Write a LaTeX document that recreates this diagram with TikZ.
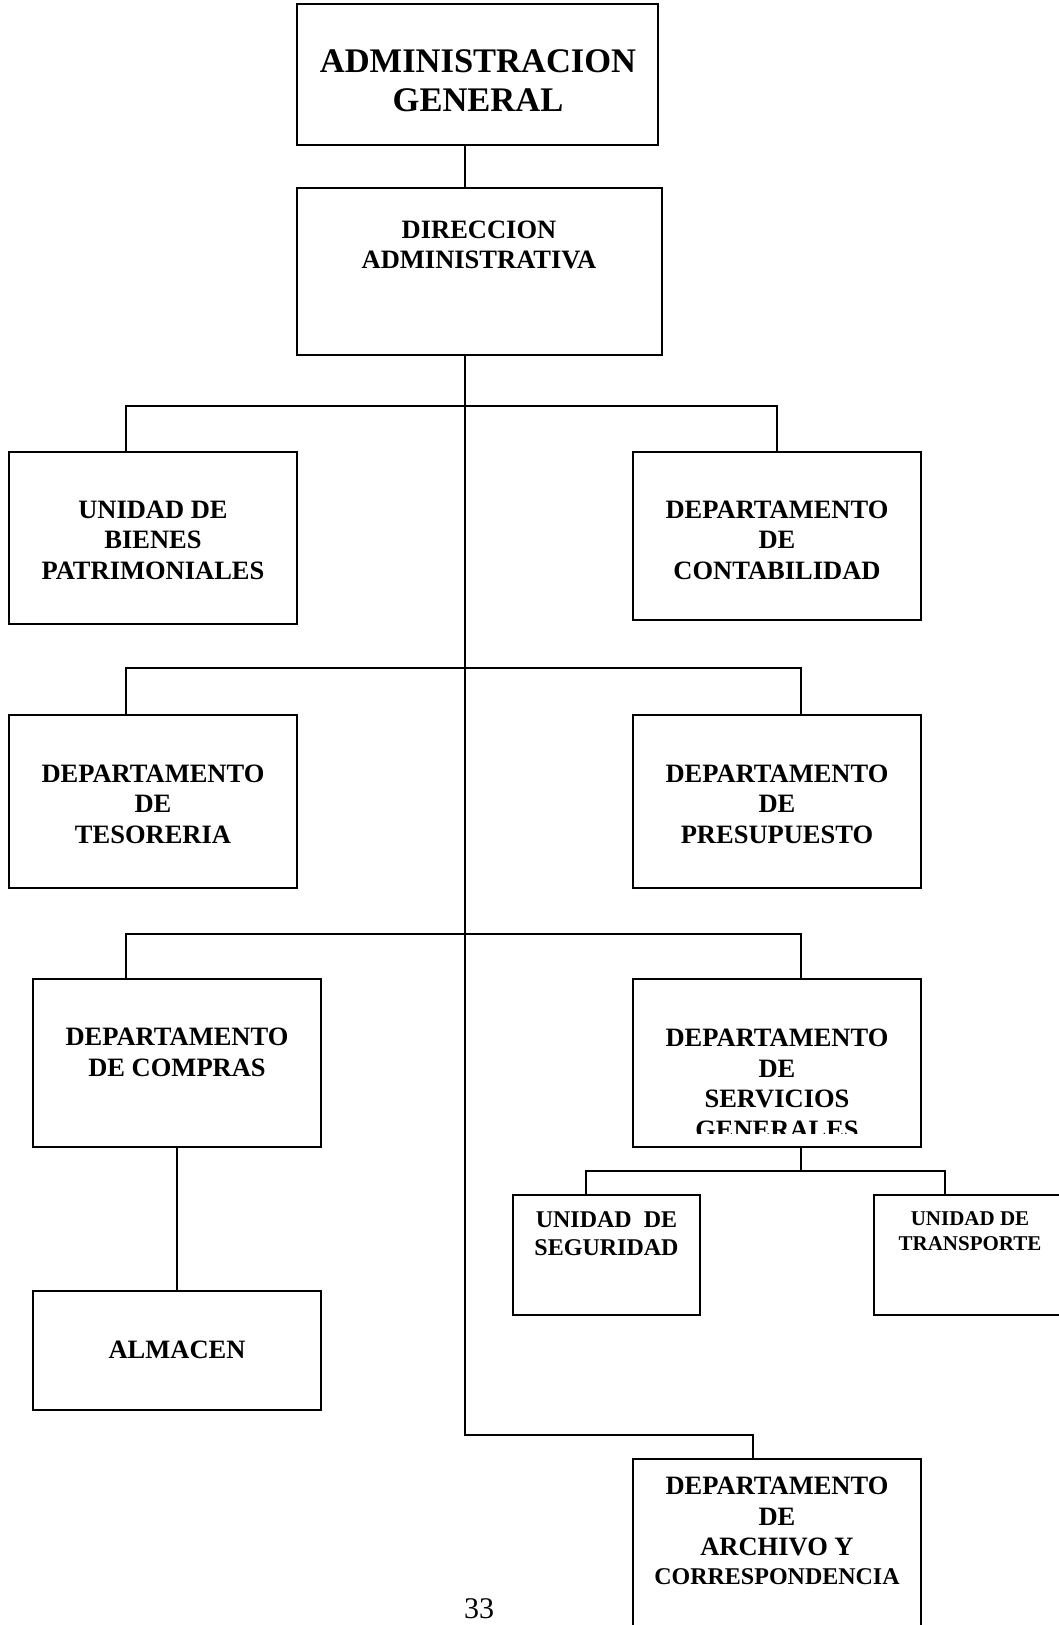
\documentclass[tikz,border=0pt]{standalone}
\usepackage{fontspec}
\setmainfont{Liberation Serif}
\begin{document}
\begin{tikzpicture}[x=1pt,y=-1pt,
  box/.style={draw,line width=1.8pt,inner sep=0pt},
  conn/.style={line width=1.4pt},
  txt/.style={align=center,inner sep=0pt,font=\bfseries\fontsize{26.5}{30.5}\selectfont},
  bigtxt/.style={align=center,inner sep=0pt,font=\bfseries\fontsize{34.5}{39.5}\selectfont},
  midtxt/.style={align=center,inner sep=0pt,font=\bfseries\fontsize{24}{28}\selectfont},
  smalltxt/.style={align=center,inner sep=0pt,font=\bfseries\fontsize{21}{24.5}\selectfont}]
\useasboundingbox[fill=white] (0,0) rectangle (1058,1625);

% boxes
\node[box,minimum width=361pt,minimum height=141pt] (ag) at (477.5,74.5) {};
\node[box,minimum width=365pt,minimum height=167pt] (dir) at (479.5,271.5) {};
\node[box,minimum width=288pt,minimum height=172pt] (bienes) at (153,538) {};
\node[box,minimum width=288pt,minimum height=168pt] (cont) at (777,536) {};
\node[box,minimum width=288pt,minimum height=173pt] (tes) at (153,801.5) {};
\node[box,minimum width=288pt,minimum height=173pt] (pres) at (777,801.5) {};
\node[box,minimum width=288pt,minimum height=168pt] (compras) at (177,1063) {};
\node[box,minimum width=288pt,minimum height=119pt] (almacen) at (177,1350.5) {};
\node[box,minimum width=288pt,minimum height=168pt] (serv) at (777,1063) {};
\node[box,minimum width=187pt,minimum height=120pt] (seg) at (606.5,1255) {};
\node[box,minimum width=188pt,minimum height=120pt] (trans) at (968,1255) {};
\node[box,minimum width=288pt,minimum height=201pt] (arch) at (777,1559.5) {};

% texts
\node[bigtxt] (tag) at (478,80.5) {ADMINISTRACION\\GENERAL};
\node[txt] (tdir) at (479,245) {DIRECCION\\ADMINISTRATIVA};
\node[txt] (tbienes) at (153,540) {UNIDAD DE\\BIENES\\PATRIMONIALES};
\node[txt] (tcont) at (777,540) {DEPARTAMENTO\\DE\\CONTABILIDAD};
\node[txt] (ttes) at (153,804) {DEPARTAMENTO\\DE\\TESORERIA};
\node[txt] (tpres) at (777,804) {DEPARTAMENTO\\DE\\PRESUPUESTO};
\node[txt] (tcompras) at (177,1052.5) {DEPARTAMENTO\\DE COMPRAS};
\node[txt] (talmacen) at (177,1350) {ALMACEN};
\begin{scope}
\clip (600,960) rectangle (950,1133);
\node[txt] (tserv) at (777,1084) {DEPARTAMENTO\\DE\\SERVICIOS\\GENERALES};
\end{scope}
\node[midtxt] (tseg) at (606.5,1234) {UNIDAD\ \ DE\\SEGURIDAD};
\node[smalltxt] (ttrans) at (970,1231) {UNIDAD DE\\TRANSPORTE};
\node[txt] (tarch) at (777,1516.5) {DEPARTAMENTO\\DE\\ARCHIVO Y};
\node[midtxt] (tarch2) at (777,1577) {CORRESPONDENCIA};
\node[inner sep=0pt,font=\fontsize{30}{34}\selectfont] (pg) at (479,1609) {33};

% trunk coordinates
\coordinate (tx) at (465,0);
\coordinate (b1l) at (126,406);
\coordinate (b1r) at (777,406);
\coordinate (b2l) at (126,668);
\coordinate (b2r) at (801,668);
\coordinate (b3l) at (126,934);
\coordinate (b3r) at (801,934);
\coordinate (tb) at (465,1435);
\coordinate (tbr) at (753,1435);
\coordinate (s1) at (801,1171);
\coordinate (s1l) at (586,1171);
\coordinate (s1r) at (945,1171);

% connectors
\draw[conn] (ag.south -| tx) -- (dir.north -| tx);
\draw[conn] (dir.south -| tx) -- (tb) -- (tbr) -- (arch.north -| tbr);
\draw[conn] (bienes.north -| b1l) -- (b1l) -- (b1r) -- (cont.north -| b1r);
\draw[conn] (tes.north -| b2l) -- (b2l) -- (b2r) -- (pres.north -| b2r);
\draw[conn] (compras.north -| b3l) -- (b3l) -- (b3r) -- (serv.north -| b3r);
\draw[conn] (compras.south) -- (almacen.north);
\draw[conn] (serv.south -| s1) -- (s1);
\draw[conn] (seg.north -| s1l) -- (s1l) -- (s1r) -- (trans.north -| s1r);
\end{tikzpicture}
\end{document}
